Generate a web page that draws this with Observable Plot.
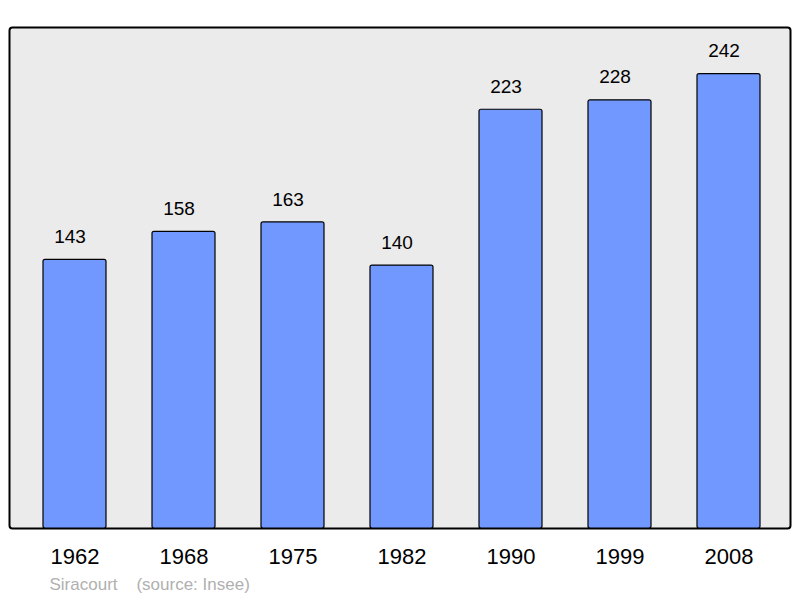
<!DOCTYPE html>
<html><head><meta charset="utf-8">
<script src="https://cdn.jsdelivr.net/npm/d3@7"></script>
<script src="https://cdn.jsdelivr.net/npm/@observablehq/plot@0.6"></script>
<style>body{margin:0;background:#fff}</style>
</head><body><div id="chart"></div>
<script>
const years = ["1962","1968","1975","1982","1990","1999","2008"];
const population = [143,158,163,140,223,228,242];
const town = "Siracourt";
const source = "(source: Insee)";

const data = years.map((y,i)=>({year:y, pop:population[i]}));
const font = "'Liberation Sans', Arial, sans-serif";

const chart = Plot.plot({
  width: 800, height: 598,
  marginLeft: 9, marginRight: 10, marginTop: 27, marginBottom: 70,
  style: {fontFamily: font, background: "#fff"},
  x: {domain: years, range: [18.3, 784.7], paddingInner: 0.424, paddingOuter: 0.212, label: null},
  y: {domain: [0, 266.8], axis: null},
  marks: [
    Plot.frame({fill: "#ebebeb", stroke: "#000", strokeWidth: 2, rx: 3}),
    Plot.barY(data, {x: "year", y: "pop", fill: "#7098ff", stroke: "#000", strokeWidth: 1.2, rx: 2}),
    Plot.text(data, {x: "year", y: "pop", text: d => String(d.pop), dx: -5, dy: -23, lineAnchor: "middle", fontSize: 19, fill: "#000"}),
    Plot.axisX({tickSize: 0, tickPadding: 20, fontSize: 22, fill: "#000", label: null}),
    Plot.text([town + "    " + source], {frameAnchor: "bottom-left", dx: 40, dy: 56, textAnchor: "start", lineAnchor: "middle", fontSize: 17, fill: "#b0b0b0"})
  ]
});
chart.querySelectorAll("text").forEach(t=>t.setAttribute("xml:space","preserve"));
chart.style.whiteSpace = "pre";
document.getElementById("chart").append(chart);
</script></body></html>
